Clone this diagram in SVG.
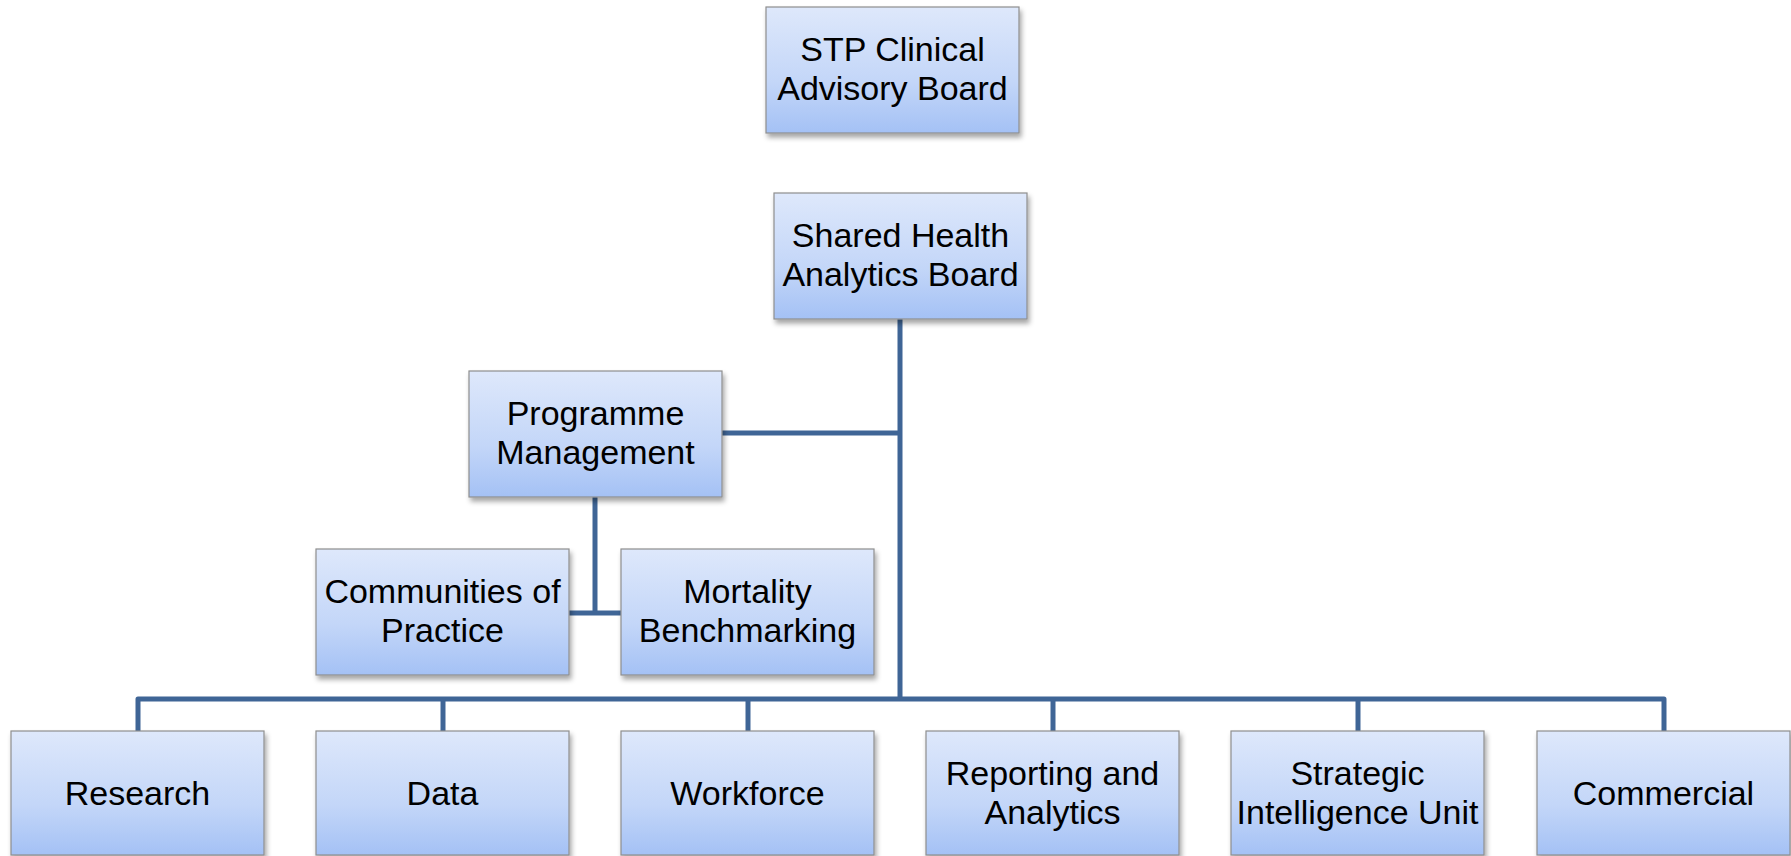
<svg xmlns="http://www.w3.org/2000/svg" width="1791" height="856" viewBox="0 0 1791 856">
<defs>
<linearGradient id="boxfill" x1="0" y1="0" x2="0" y2="1">
<stop offset="0" stop-color="#DEE8FB"/>
<stop offset="0.6" stop-color="#C3D6F8"/>
<stop offset="1" stop-color="#A4C1F5"/>
</linearGradient>
<filter id="shadow" x="-10%" y="-10%" width="125%" height="130%">
<feDropShadow dx="2" dy="4" stdDeviation="2.5" flood-color="#000" flood-opacity="0.35"/>
</filter>
</defs>
<style>
.box{fill:url(#boxfill);stroke:#8E8E8E;stroke-width:1.2;filter:url(#shadow);}
.lbl{font-family:"Liberation Sans",Arial,sans-serif;font-size:34px;fill:#000;text-anchor:middle;}
.conn{fill:none;stroke:#3F6596;stroke-width:5;stroke-linejoin:round;stroke-linecap:butt;}
</style>
<rect width="1791" height="856" fill="#FFFFFF"/>
<g id="connectors">
<path class="conn" d="M900 319 V699"/>
<path class="conn" d="M722 433 H900"/>
<path class="conn" d="M595 497 V613"/>
<path class="conn" d="M569 613 H621"/>
<path class="conn" d="M138 731 V699 H1664 V731"/>
<path class="conn" d="M443 699 V731"/>
<path class="conn" d="M748 699 V731"/>
<path class="conn" d="M1053 699 V731"/>
<path class="conn" d="M1358 699 V731"/>
</g>
<g id="node-stp">
<rect class="box" x="766" y="7" width="253" height="126"/>
<text class="lbl" x="892.5" y="61">STP Clinical</text>
<text class="lbl" x="892.5" y="100">Advisory Board</text>
</g>
<g id="node-shab">
<rect class="box" x="774" y="193" width="253" height="126"/>
<text class="lbl" x="900.5" y="247">Shared Health</text>
<text class="lbl" x="900.5" y="286">Analytics Board</text>
</g>
<g id="node-programme">
<rect class="box" x="469" y="371" width="253" height="126"/>
<text class="lbl" x="595.5" y="425">Programme</text>
<text class="lbl" x="595.5" y="464">Management</text>
</g>
<g id="node-communities">
<rect class="box" x="316" y="549" width="253" height="126"/>
<text class="lbl" x="442.5" y="603">Communities of</text>
<text class="lbl" x="442.5" y="642">Practice</text>
</g>
<g id="node-mortality">
<rect class="box" x="621" y="549" width="253" height="126"/>
<text class="lbl" x="747.5" y="603">Mortality</text>
<text class="lbl" x="747.5" y="642">Benchmarking</text>
</g>
<g id="node-research">
<rect class="box" x="11" y="731" width="253" height="124"/>
<text class="lbl" x="137.5" y="805">Research</text>
</g>
<g id="node-data">
<rect class="box" x="316" y="731" width="253" height="124"/>
<text class="lbl" x="442.5" y="805">Data</text>
</g>
<g id="node-workforce">
<rect class="box" x="621" y="731" width="253" height="124"/>
<text class="lbl" x="747.5" y="805">Workforce</text>
</g>
<g id="node-reporting">
<rect class="box" x="926" y="731" width="253" height="124"/>
<text class="lbl" x="1052.5" y="785">Reporting and</text>
<text class="lbl" x="1052.5" y="824">Analytics</text>
</g>
<g id="node-strategic">
<rect class="box" x="1231" y="731" width="253" height="124"/>
<text class="lbl" x="1357.5" y="785">Strategic</text>
<text class="lbl" x="1357.5" y="824">Intelligence Unit</text>
</g>
<g id="node-commercial">
<rect class="box" x="1537" y="731" width="253" height="124"/>
<text class="lbl" x="1663.5" y="805">Commercial</text>
</g>
</svg>
